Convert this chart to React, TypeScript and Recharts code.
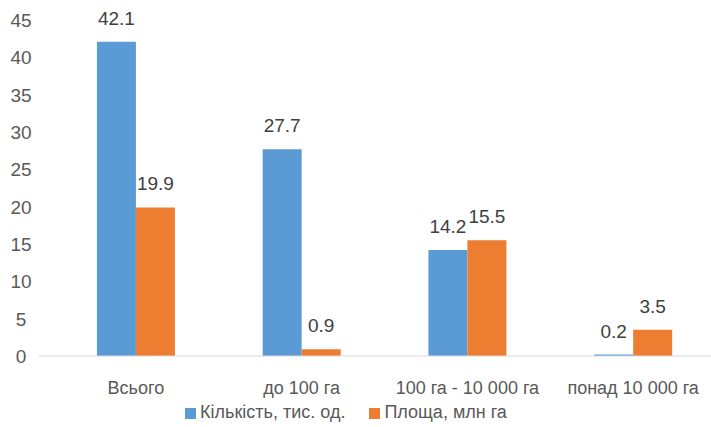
import { BarChart, Bar, XAxis, YAxis, Legend, LabelList } from 'recharts'

const categories = ['Всього', 'до 100 га', '100 га - 10 000 га', 'понад 10 000 га']
const kilkist = [42.1, 27.7, 14.2, 0.2]
const ploshcha = [19.9, 0.9, 15.5, 3.5]
const yTicks = [0, 5, 10, 15, 20, 25, 30, 35, 40, 45]

const data = categories.map((name, i) => ({
  name,
  kilkist: kilkist[i],
  ploshcha: ploshcha[i],
}))

const font = '"Liberation Sans", Arial, sans-serif'
const textColor = '#595959'

const YTick = (props: any) => {
  const { y, payload } = props
  return (
    <text x={21} y={y} dy={7} textAnchor="middle" fontSize={19} fill={textColor} fontFamily={font}>
      {payload.value}
    </text>
  )
}

export default function App() {
  return (
    <div style={{ position: 'absolute', left: 0, top: 0, width: 711, height: 427, overflow: 'hidden' }}>
      <BarChart
        width={720}
        height={427}
        data={data}
        margin={{ top: 20, right: 4, bottom: 0, left: 0 }}
        barCategoryGap="26.5%"
        barGap={0}
      >
        <XAxis
          dataKey="name"
          padding={{ left: 14, right: 0 }}
          axisLine={{ stroke: '#D9D9D9' }}
          tickLine={false}
          tick={{ fontSize: 18, fill: textColor, fontFamily: font }}
          tickMargin={19}
          height={46}
          interval={0}
        />
        <YAxis
          domain={[0, 45]}
          ticks={yTicks}
          width={39}
          axisLine={false}
          tickLine={false}
          tick={<YTick />}
        />
        <Legend
          verticalAlign="bottom"
          height={25}
          iconType="square"
          iconSize={11}
          wrapperStyle={{ fontFamily: font, fontSize: 18 }}
          formatter={(value) => <span style={{ color: textColor, marginRight: 14 }}>{value}</span>}
        />
        <Bar dataKey="kilkist" name="Кількість, тис. од." fill="#5B9BD5" isAnimationActive={false}>
          <LabelList
            dataKey="kilkist"
            position="top"
            offset={17}
            formatter={(v: any) => Number(v).toFixed(1)}
            style={{ fontSize: 19, fill: '#404040', fontFamily: font }}
          />
        </Bar>
        <Bar dataKey="ploshcha" name="Площа, млн га" fill="#ED7D31" isAnimationActive={false}>
          <LabelList
            dataKey="ploshcha"
            position="top"
            offset={17}
            formatter={(v: any) => Number(v).toFixed(1)}
            style={{ fontSize: 19, fill: '#404040', fontFamily: font }}
          />
        </Bar>
      </BarChart>
    </div>
  )
}
